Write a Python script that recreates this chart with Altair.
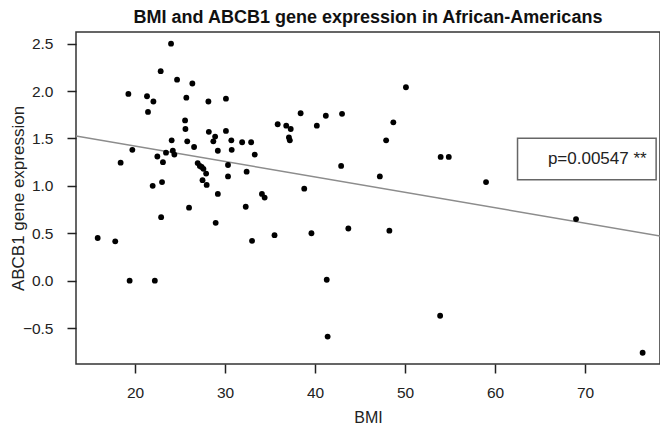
import altair as alt
import pandas as pd

# Data
bmi = [24.0, 19.26, 22.85, 24.67, 26.37, 21.33, 22.04, 25.7, 28.15, 30.1,
       21.44, 25.56, 25.6, 28.2, 30.1, 28.9, 30.7, 31.9, 32.9, 25.8,
       24.07, 28.7, 26.56, 19.7, 23.44, 24.2, 24.37, 22.48, 29.2, 30.74,
       18.4, 23.1, 26.96, 27.2, 27.4, 27.6, 30.33, 32.4, 27.9, 30.33,
       27.5, 21.96, 23.0, 27.96, 29.2, 26.0, 32.3, 22.9, 28.96, 15.85,
       17.8, 33.0, 19.4, 22.2, 50.1, 38.4, 41.2, 43.0, 35.85, 36.8,
       37.3, 40.2, 48.7, 37.1, 37.2, 47.9, 33.3, 42.9, 47.2, 38.8,
       34.1, 34.4, 35.5, 39.6, 43.7, 48.26, 41.3, 41.4, 53.96, 54.86,
       59.0, 69.0, 53.9, 76.4]
expr = [2.50, 1.97, 2.21, 2.12, 2.08, 1.945, 1.89, 1.93, 1.89, 1.92,
        1.78, 1.69, 1.60, 1.57, 1.58, 1.52, 1.48, 1.46, 1.46, 1.47,
        1.48, 1.47, 1.41, 1.38, 1.35, 1.37, 1.33, 1.31, 1.37, 1.38,
        1.245, 1.25, 1.24, 1.21, 1.20, 1.18, 1.22, 1.15, 1.13, 1.10,
        1.06, 1.00, 1.04, 1.01, 0.915, 0.77, 0.78, 0.67, 0.61, 0.45,
        0.415, 0.42, 0.0, 0.0, 2.04, 1.766, 1.74, 1.76, 1.65, 1.635,
        1.60, 1.635, 1.67, 1.51, 1.48, 1.48, 1.33, 1.21, 1.10, 0.97,
        0.915, 0.876, 0.48, 0.50, 0.55, 0.527, 0.01, -0.59, 1.305, 1.305,
        1.04, 0.65, -0.37, -0.76]

# Fitted regression line (read at the plot edges)
fit_bmi = [13.44, 78.8]
fit_expr = [1.526, 0.464]

# Annotation box
note_text = ["p=0.00547 **"]
note_x = [62.5]
note_x2 = [77.9]
note_y = [1.065]
note_y2 = [1.502]
note_tx = [76.85]
note_ty = [1.28]

x_ticks = [20, 30, 40, 50, 60, 70]
y_ticks = [-0.5, 0.0, 0.5, 1.0, 1.5, 2.0, 2.5]
x_domain = [13.44, 78.33]
y_domain = [-0.879, 2.623]

FONT = "Liberation Sans"
W, H = 584, 332

pts = pd.DataFrame({"BMI": bmi, "expr": expr})
fit = pd.DataFrame({"BMI": fit_bmi, "expr": fit_expr})
note = pd.DataFrame({"label": note_text, "x": note_x, "x2": note_x2,
                     "y": note_y, "y2": note_y2, "tx": note_tx, "ty": note_ty})

xscale = alt.Scale(domain=x_domain, nice=False, zero=False)
yscale = alt.Scale(domain=y_domain, nice=False, zero=False)

xaxis = alt.Axis(values=x_ticks, title="BMI", grid=False, domain=False,
                 tickSize=9, tickColor="#222", tickWidth=1.5,
                 labelFontSize=15.5, labelFont=FONT, labelColor="#222",
                 labelPadding=12, titleFontSize=16, titleFont=FONT,
                 titleFontWeight="normal", titleColor="#222",
                 titleX=W / 2, titleY=58, titleAlign="center",
                 titleBaseline="alphabetic")
yaxis = alt.Axis(values=y_ticks, format=".1f", title="ABCB1 gene expression",
                 grid=False, domain=False, tickSize=9, tickColor="#222",
                 tickWidth=1.5, labelFontSize=15.5, labelFont=FONT,
                 labelColor="#222", labelPadding=14, titleFontSize=17,
                 titleFont=FONT, titleFontWeight="normal", titleColor="#222",
                 titleX=-58, titleY=H / 2, titleAngle=270, titleAlign="center",
                 titleBaseline="middle")

points = alt.Chart(pts).mark_circle(size=34, color="black", opacity=1).encode(
    x=alt.X("BMI:Q", scale=xscale, axis=xaxis),
    y=alt.Y("expr:Q", scale=yscale, axis=yaxis),
)

line = alt.Chart(fit).mark_line(color="#8c8c8c", strokeWidth=1.6, clip=True).encode(
    x=alt.X("BMI:Q", scale=xscale),
    y=alt.Y("expr:Q", scale=yscale),
)

box = alt.Chart(note).mark_rect(fill="white", stroke="#666", strokeWidth=1.5).encode(
    x=alt.X("x:Q", scale=xscale), x2="x2:Q",
    y=alt.Y("y:Q", scale=yscale), y2="y2:Q",
)

txt = alt.Chart(note).mark_text(align="right", baseline="middle", fontSize=17,
                                font=FONT, color="#222").encode(
    x=alt.X("tx:Q", scale=xscale),
    y=alt.Y("ty:Q", scale=yscale),
    text="label:N",
)

chart = alt.layer(line, points, box, txt).properties(
    width=W, height=H,
    title=alt.TitleParams("BMI and ABCB1 gene expression in African-Americans",
                          font=FONT, fontSize=18, fontWeight="bold",
                          color="#111", anchor="middle", offset=5),
    autosize=alt.AutoSizeParams(type="none"),
    padding={"left": 68, "top": 24, "right": 0, "bottom": 60},
).configure(
    background="white",
    view=alt.ViewConfig(stroke="#333", strokeWidth=1.5),
)

chart.save("out.html", embed_options={"renderer": "svg", "actions": False})
